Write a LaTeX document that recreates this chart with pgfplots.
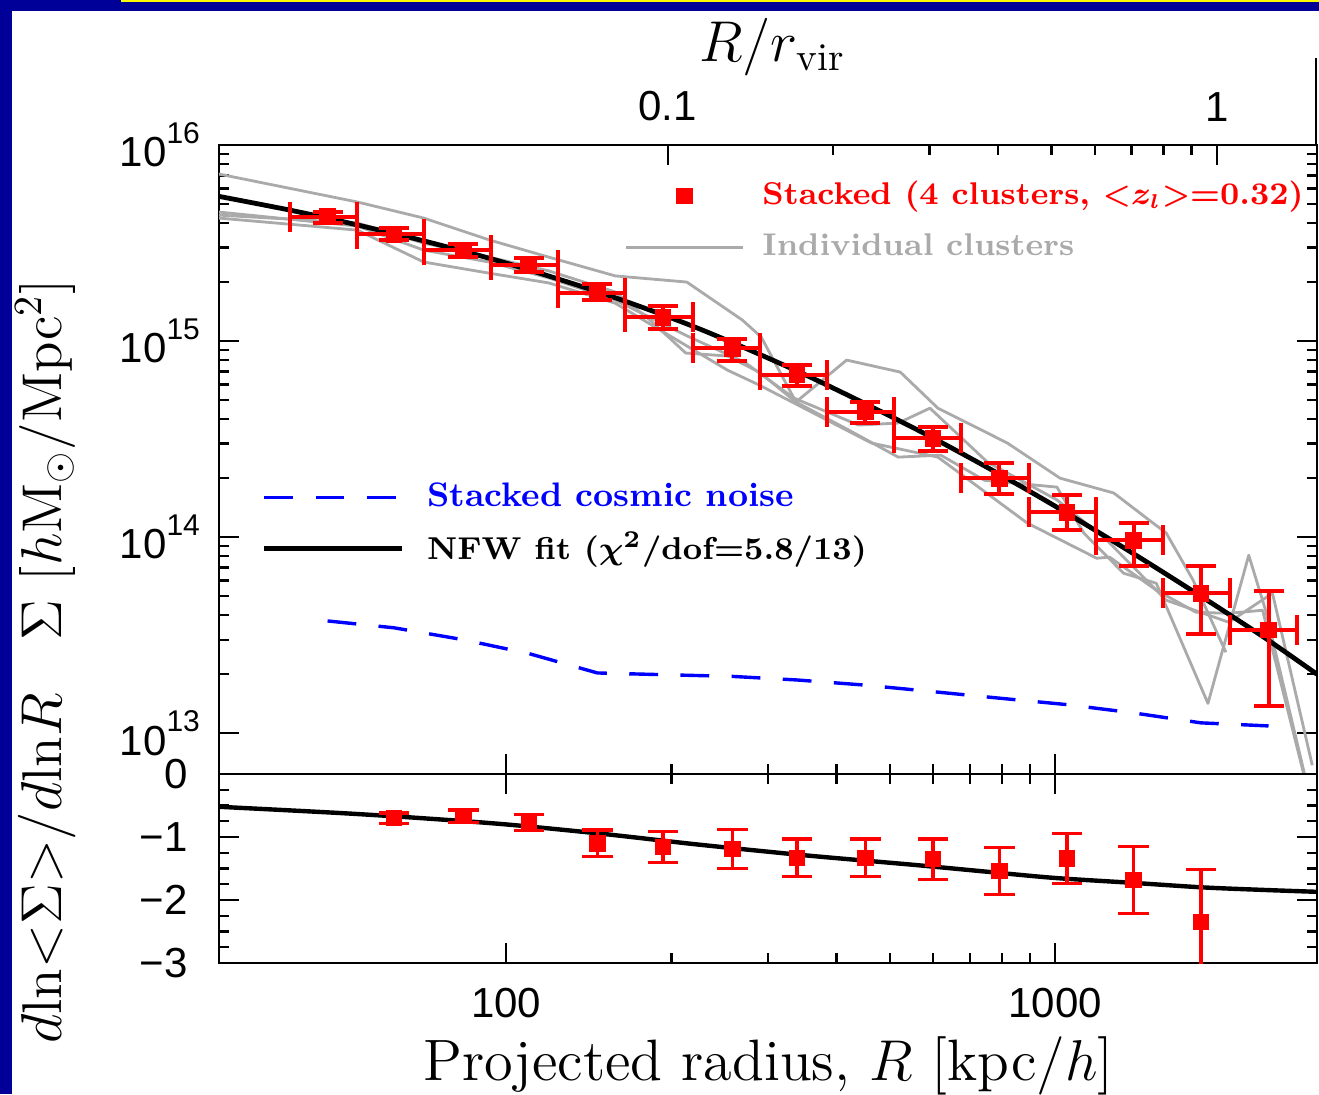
\documentclass[border=0pt]{standalone}
\usepackage{fontspec}
\usepackage{pgfplots}
\pgfplotsset{compat=1.18}
\newfontfamily\tickfont{Liberation Sans}
\definecolor{pred}{RGB}{255,0,0}
\definecolor{pblue}{RGB}{0,0,255}
\definecolor{pgray}{RGB}{170,170,170}
\definecolor{framenavy}{RGB}{0,0,153}
\definecolor{frameyellow}{RGB}{250,250,0}
\newcommand\tenp[1]{10\raisebox{5.85pt}{\fontsize{7.5}{8}\selectfont #1}}
\pgfplotsset{
  panel/.style={
    scale only axis, width=274.5pt,
    tick align=inside, major tick length=5pt, minor tick length=2.5pt,
    axis line style={line width=0.6pt, black},
    tick style={black, line width=0.6pt},
    tick label style={font=\tickfont\fontsize{10.5}{12}\selectfont},
    label style={font=\fontsize{14}{16}\selectfont},
  },
}
\begin{document}
\begin{tikzpicture}
\path[use as bounding box] (0pt,0pt) rectangle (329.75pt,-273.5pt);
\fill[white] (0pt,0pt) rectangle (329.75pt,-273.5pt);
\fill[framenavy] (0pt,0pt) rectangle (329.75pt,-2.75pt);
\fill[framenavy] (0pt,0pt) rectangle (3pt,-273.5pt);
\fill[frameyellow] (30.25pt,0pt) rectangle (329.75pt,-0.5pt);
\draw[black,line width=0.5pt] (329.1pt,-14.5pt) -- (329.1pt,-36.25pt);

% ---------------- top panel ----------------
\begin{axis}[panel,
  at={(54.75pt,-193.5pt)}, anchor=south west, height=157.25pt,
  xmode=log, ymode=log,
  xmin=30, xmax=3000, ymin=6.2e12, ymax=1e16,
  xtick={100,1000}, xticklabels={}, xtick pos=left,
  ytick={1e13,1e14,1e15,1e16},
  yticklabels={\tenp{13},\tenp{14},\tenp{15},\tenp{16}},
  yticklabel style={xshift=-1.25pt},
  ylabel={$\Sigma$ [$h$M$_\odot$/Mpc$^2$]},
  ylabel style={at={(rel axis cs:-0.143,0.5)}, anchor=base},
  legend style={draw=none, fill=none, inner sep=0pt, outer sep=0pt,
    at={(rel axis cs:0.0392,0.3978)}, anchor=west,
    font=\bfseries\fontsize{8.5}{10}\selectfont,
    row sep=1pt, nodes={inner sep=2pt},
    /tikz/every odd column/.append style={column sep=3.6pt}},
  legend cell align=left,
  legend image code/.code={\draw[#1] (0pt,0pt) -- (34.5pt,0pt);},
]
% individual clusters
\addplot[pgray, line width=0.7pt, line join=round, forget plot] coordinates {
(30,7.11e15) (53.6,5.12e15) (70.8,4.24e15) (93.2,3.28e15) (119.6,2.68e15) (158.1,2.15e15)
(213.4,2.00e15) (269.4,1.28e15) (291.5,1.05e15) (337.3,4.89e14) (417.2,8.00e14) (522.4,6.95e14)
(611.7,4.55e14) (818.9,3.02e14) (1021,2.00e14) (1279,1.68e14) (1485,1.22e14) (1594,1.05e14)
(1784,6.04e13) (2047,2.59e13)};
\addplot[pgray, line width=0.7pt, line join=round, forget plot] coordinates {
(30,4.39e15) (53.6,4.00e15) (70.8,3.16e15) (93.2,2.68e15) (119.6,2.28e15) (158.1,1.78e15)
(182.9,1.28e15) (212.5,8.69e14) (253.1,8.39e14) (289.1,6.95e14) (337.3,4.89e14) (420.7,3.52e14)
(518.0,2.56e14) (619.4,2.62e14) (743.8,1.95e14) (1008,1.80e14) (1128,1.05e14) (1333,6.55e13)
(1529,5.82e13) (1899,1.42e13) (2253,8.09e13) (2418,4.24e13) (2856,5.97e12)};
\addplot[pgray, line width=0.7pt, line join=round, forget plot] coordinates {
(30,4.24e15) (53.6,3.68e15) (70.8,2.53e15) (93.2,2.22e15) (119.6,1.98e15) (158.1,1.56e15)
(190.7,1.14e15) (253.1,7.11e14) (289.1,5.97e14) (463.0,3.02e14) (611.7,2.56e14) (889.9,1.18e14)
(1191,7.81e13) (1257,7.91e13) (1529,5.37e13) (1806,4.14e13) (2073,4.09e13) (2388,4.24e13)
(2739,9.21e12) (2916,4.55e12)};
\addplot[pgray, line width=0.7pt, line join=round, forget plot] coordinates {
(30,4.55e15) (53.6,3.86e15) (70.8,2.91e15) (93.2,2.53e15) (119.6,2.10e15) (158.1,1.62e15)
(212.5,1.07e15) (271.6,7.82e14) (334.5,5.12e14) (438.5,3.73e14) (518.0,3.82e14) (591.7,4.55e14)
(753.4,2.41e14) (1008,1.55e14) (1242,9.66e13) (1594,4.77e13) (2073,3.68e13) (2489,5.18e13)
(2941,6.87e12)};
% stacked cosmic noise
\addplot[pblue, line width=0.85pt, dash pattern=on 7.2pt off 5.6pt] coordinates {
(47.3,3.74e13) (62.5,3.45e13) (83.6,3.0e13) (110,2.55e13) (146.7,2.03e13) (193.1,1.99e13)
(258.4,1.95e13) (338.7,1.87e13) (451.3,1.76e13) (599.3,1.63e13) (791.9,1.51e13) (1051,1.40e13)
(1390,1.27e13) (1844,1.13e13) (2448,1.09e13)};
\addlegendentry{\textcolor{pblue}{Stacked cosmic noise}}
% NFW fit
\addplot[black, line width=1.2pt, smooth] coordinates {
(30,5.47e15) (40,4.68e15) (50,4.09e15) (70,3.27e15) (100,2.50e15) (150,1.75e15) (224,1.16e15)
(350,6.75e14) (550,3.63e14) (750,2.28e14) (1000,1.44e14) (1400,8.13e13) (1862,4.91e13)
(2400,3.09e13) (3000,2.0e13)};
\addlegendentry{\textcolor{black}{\fontsize{7.9}{10}\selectfont\boldmath NFW fit ($\chi^2$/dof=5.8/13)}}
% stacked data
\addplot[pred, only marks, mark=square*, mark size=1.9pt, forget plot,
  error bars/.cd, x dir=both, x explicit, y dir=both, y explicit,
  error bar style={line width=1pt, pred},
  error mark options={rotate=90, pred, mark size=3.75pt, line width=1pt}]
table[x=R, y=S, x error minus=xm, x error plus=xp, y error minus=ym, y error plus=yp] {
R      S        xm     xp     ym       yp
47.3   4.30e15  6.95   6.18   0.30e15  0.25e15
62.5   3.51e15  9.02   8.38   0.24e15  0.27e15
83.6   2.91e15  12.72  10.35  0.23e15  0.22e15
110.0  2.44e15  16.05  14.5   0.19e15  0.21e15
146.7  1.76e15  22.2   18.3   0.14e15  0.19e15
193.1  1.32e15  28.1   25.7   0.17e15  0.19e15
258.4  9.20e14  39.6   31.6   1.29e14  1.0e14
338.7  6.71e14  48.7   45.6   0.82e14  0.84e14
451.3  4.35e14  67.0   58.1   0.53e14  0.54e14
599.3  3.20e14  89.9   75.8   0.45e14  0.44e14
791.9  2.00e14  116.8  102.9  0.33e14  0.39e14
1051   1.34e14  156.2  135    0.25e14  0.30e14
1390   9.66e13  204    182    2.55e13  2.14e13
1844   5.18e13  272    240    1.98e13  1.93e13
2448   3.36e13  364    314    1.99e13  1.94e13
};
\end{axis}

% ---------------- top axis R/r_vir + legend 1 ----------------
\begin{axis}[panel,
  at={(54.75pt,-193.5pt)}, anchor=south west, height=157.25pt,
  xmode=log, xmin=0.015228, xmax=1.52284, ymin=0, ymax=1,
  hide y axis,
  xtick={0.1,1}, xticklabels={0.1,1},
  xtick pos=right, xticklabel pos=right,
  xticklabel style={yshift=2.4pt},
  xlabel={$R/r_{\mathrm{vir}}$},
  xlabel style={at={(rel axis cs:0.504,1.132)}, anchor=base},
  legend style={draw=none, fill=none, inner sep=0pt, outer sep=0pt,
    at={(rel axis cs:0.3698,0.8785)}, anchor=west,
    font=\bfseries\fontsize{7.85}{10}\selectfont,
    row sep=1.8pt, nodes={inner sep=2pt},
    /tikz/every odd column/.append style={column sep=2.4pt}},
  legend cell align=left,
  legend image code/.code={\draw[mark repeat=2,mark phase=2,#1] plot coordinates {(0pt,0pt) (14.6pt,0pt) (29.25pt,0pt)};},
]
\addplot[draw=none, forget plot] coordinates {(0.1,0.5)};
\addlegendimage{only marks, mark=square*, mark size=1.9pt, pred}
\addlegendentry{\textcolor{pred}{\boldmath Stacked (4 clusters, <$z_l$>=0.32)}}
\addlegendimage{pgray, line width=0.7pt}
\addlegendentry{\textcolor{pgray}{Individual clusters}}
\end{axis}

% ---------------- bottom panel ----------------
\begin{axis}[panel,
  at={(54.75pt,-240.75pt)}, anchor=south west, height=47.25pt,
  xmode=log, xmin=30, xmax=3000, ymin=-3, ymax=0,
  xtick={100,1000}, xticklabels={100,1000},
  xticklabel style={yshift=-2.75pt},
  ytick={-3,-2,-1,0}, yticklabels={−3,−2,−1,0},
  minor y tick num=3,
  yticklabel style={xshift=-4.25pt},
  xlabel={Projected radius, $R$ [kpc/$h$]},
  xlabel style={at={(rel axis cs:0.5005,-0.619)}, anchor=base, font=\fontsize{14.6}{17}\selectfont},
  ylabel={$d\mathrm{ln}{<}\Sigma{>}/d\mathrm{ln}R$},
  ylabel style={at={(rel axis cs:-0.143,0.5)}, anchor=base},
]
\addplot[black, line width=1.1pt, smooth] coordinates {
(30,-0.52) (50,-0.62) (70,-0.70) (100,-0.80) (150,-0.95) (224,-1.12) (350,-1.29) (550,-1.44)
(750,-1.55) (1000,-1.65) (1400,-1.73) (1862,-1.80) (2400,-1.84) (3000,-1.87)};
\addplot[pred, only marks, mark=square*, mark size=1.85pt,
  error bars/.cd, y dir=both, y explicit,
  error bar style={line width=0.8pt, pred},
  error mark options={rotate=90, pred, mark size=3.8pt, line width=0.8pt}]
table[x=R, y=D, y error=e] {
R      D      e
62.5   -0.70  0.08
83.6   -0.67  0.10
110.0  -0.77  0.13
146.7  -1.10  0.21
193.1  -1.16  0.25
258.4  -1.19  0.31
338.7  -1.33  0.30
451.3  -1.33  0.30
599.3  -1.35  0.32
791.9  -1.54  0.37
1051   -1.34  0.40
1390   -1.68  0.53
1844   -2.35  0.84
};
\end{axis}
\end{tikzpicture}
\end{document}
